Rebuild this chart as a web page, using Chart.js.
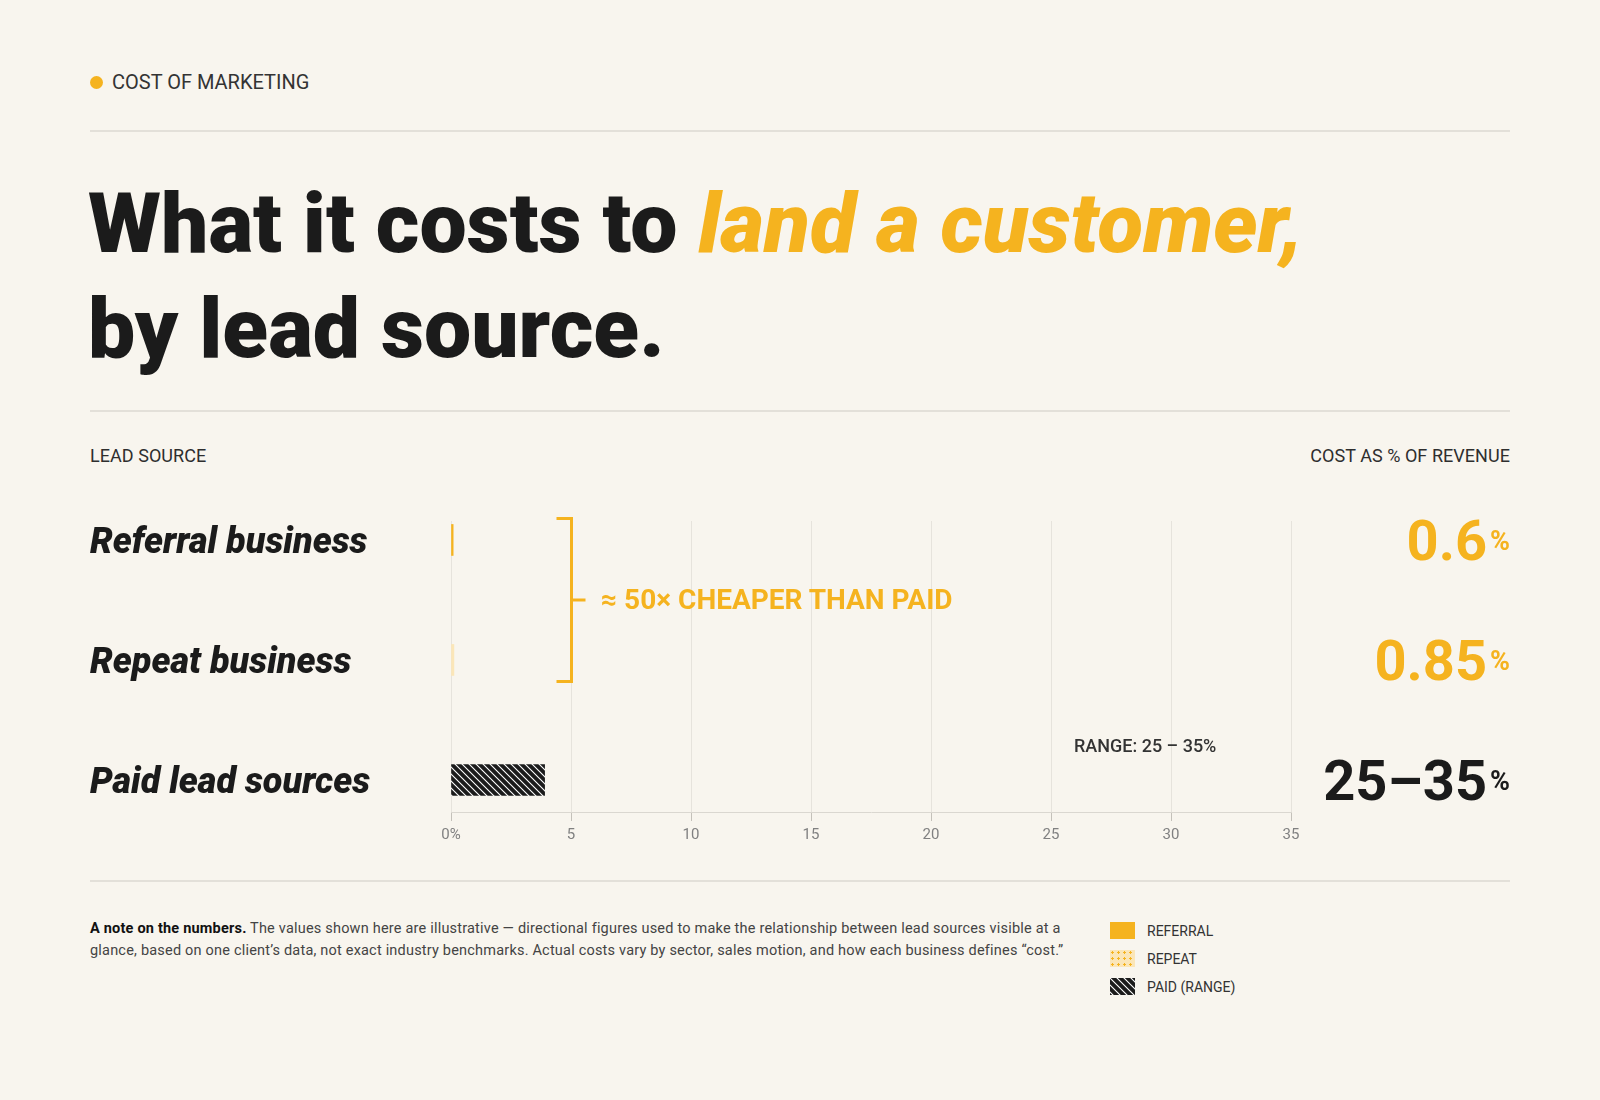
<!DOCTYPE html>
<html>
<head>
<meta charset="utf-8">
<script src="https://cdn.jsdelivr.net/npm/chart.js@4.4.1/dist/chart.umd.min.js"></script>
<style>
  html, body { margin: 0; padding: 0; }
  body { width: 1600px; height: 1100px; background: #f8f5ee; position: relative; overflow: hidden;
         font-family: Roboto, "Noto Sans", sans-serif; color: #1b1b1b; }
  .abs { position: absolute; line-height: 1; white-space: nowrap; }
  .rule { position: absolute; left: 90px; width: 1420px; height: 2px; background: #e3e0d9; }
  #kdot { position: absolute; left: 89.5px; top: 75.5px; width: 13px; height: 13px; border-radius: 50%; background: #f5b31f; }
  .title { font-weight: 900; font-size: 84px; color: #1b1b1b; }
  .title em { color: #f5b31f; font-style: italic; }
  .cap { font-size: 18px; font-weight: 400; color: #2e2e2e; letter-spacing: 0.05px; }
  .cat { font-size: 36px; font-weight: 900; font-style: italic; color: #1b1b1b; }
  .val { font-size: 56px; font-weight: 700; right: 90px; }
  .val .pct { font-size: 27px; position: relative; top: -10px; margin-left: 3px; }
  .note { font-size: 14.5px; color: #444; line-height: 22px; white-space: nowrap; letter-spacing: 0.2px; }
  .note b { color: #111; }
  .leg { font-size: 14px; color: #333; }
  #chartbox { position: absolute; left: 0; top: 470px; width: 1600px; height: 400px; }
</style>
</head>
<body>

<div id="kdot"></div>
<div class="abs" id="kicker" style="font-size:20px;color:#333;">COST OF MARKETING</div>
<div class="rule" style="top:130px"></div>

<div class="abs title" id="t1">What it costs to <em>land a customer,</em></div>
<div class="abs title" id="t2">by lead source.</div>
<div class="rule" style="top:410px"></div>

<div class="abs cap" id="hLeft">LEAD SOURCE</div>
<div class="abs cap" id="hRight" style="right:90px">COST AS % OF REVENUE</div>

<div id="chartbox"><canvas id="chart" width="1600" height="400"></canvas></div>
<div id="labels"></div>

<div class="rule" style="top:880px"></div>
<div class="abs note" id="note"><b>A note on the numbers.</b> The values shown here are illustrative — directional figures used to make the relationship between lead sources visible at a<br>glance, based on one client’s data, not exact industry benchmarks. Actual costs vary by sector, sales motion, and how each business defines “cost.”</div>
<div id="legend"></div>

<script>
// lead sources, top to bottom
const sources = ['Referral business', 'Repeat business', 'Paid lead sources'];
// figures printed on the right
const valueLabels = ['0.6', '0.85', '25–35'];
// bar ends as they sit on the x axis
const barEnds = [0.09, 0.12, 3.9];
const xTicks = [0, 5, 10, 15, 20, 25, 30, 35];
const paidRange = [25, 35];
const legendNames = ['REFERRAL', 'REPEAT', 'PAID (RANGE)'];

const YELLOW = '#f5b31f';
const PALE = '#fbe6b8';
const INK = '#1b1b1b';

function place(el, x, baseline, size) {
    el.style.left = x + 'px';
    el.style.top = (baseline - 0.842 * size) + 'px';
}

function hatchPattern(ctx) {
    var c = document.createElement('canvas');
    c.width = 7; c.height = 7;
    var g = c.getContext('2d');
    g.fillStyle = INK;
    g.fillRect(0, 0, 7, 7);
    g.strokeStyle = '#ffffff';
    g.lineWidth = 1.1;
    g.beginPath();
    g.moveTo(-1, -1); g.lineTo(8, 8);
    g.moveTo(-8, -1); g.lineTo(1, 8);
    g.moveTo(6, -1); g.lineTo(15, 8);
    g.stroke();
    return ctx.createPattern(c, 'repeat');
}

function plusPattern(ctx) {
    var c = document.createElement('canvas');
    c.width = 6; c.height = 6;
    var g = c.getContext('2d');
    g.fillStyle = PALE;
    g.fillRect(0, 0, 6, 6);
    g.fillStyle = YELLOW;
    g.fillRect(2, 1, 1, 3);
    g.fillRect(1, 2, 3, 1);
    return ctx.createPattern(c, 'repeat');
}

// header text
place(document.getElementById('kicker'), 112, 89, 20);
place(document.getElementById('t1'), 88, 253, 84);
place(document.getElementById('t2'), 88, 358, 84);
place(document.getElementById('hLeft'), 90, 462, 18);
document.getElementById('hRight').style.top = (462 - 0.842 * 18) + 'px';
var note = document.getElementById('note');
note.style.left = '90px';
note.style.top = (934 - (22 - 14.5 * 1.172) / 2 - 0.928 * 14.5) + 'px';

const ctx = document.getElementById('chart').getContext('2d');
const BAR_H = 31;
// the repeat bar is too thin to show its dot pattern, so it reads as pale yellow
const barColors = [YELLOW, PALE, hatchPattern(ctx)];

const chart = new Chart(ctx, {
    type: 'bar',
    data: {
        datasets: [{
            data: barEnds.map(function(v, i) { return { x: v, y: i }; }),
            backgroundColor: barColors,
            borderWidth: 0,
            barThickness: BAR_H
        }]
    },
    options: {
        indexAxis: 'y',
        responsive: false,
        animation: false,
        devicePixelRatio: 1,
        layout: { padding: { left: 451, right: 309, top: 51, bottom: 18 } },
        plugins: { legend: { display: false }, tooltip: { enabled: false } },
        scales: {
            x: {
                type: 'linear',
                min: 0,
                max: 35,
                afterBuildTicks: function(s) { s.ticks = xTicks.map(function(v) { return { value: v }; }); },
                afterFit: function(s) { s.height = 40; },
                grid: { color: '#e6e3dc', lineWidth: 1, tickLength: 9, tickColor: '#c4c1ba' },
                border: { color: '#dad7d0', width: 1 },
                ticks: {
                    color: '#808080',
                    padding: 5,
                    font: { family: 'Roboto', size: 15 },
                    callback: function(v) { return v === 0 ? '0%' : v; }
                }
            },
            y: {
                type: 'linear',
                reverse: true,
                offset: false,
                min: -0.158,
                max: 2.267,
                display: false,
                grid: { offset: false }
            }
        }
    },
    plugins: [{
        id: 'bracket',
        afterDatasetsDraw: function(c) {
            var xs = c.scales.x, ys = c.scales.y, g = c.ctx;
            var bx = Math.round(xs.getPixelForValue(5)) + 0.5;
            var top = ys.getPixelForValue(0) - BAR_H / 2 - 6;
            var bot = ys.getPixelForValue(1) + BAR_H / 2 + 6;
            var mid = (top + bot) / 2;
            g.save();
            g.strokeStyle = YELLOW;
            g.lineWidth = 3;
            g.beginPath();
            g.moveTo(bx - 15, top); g.lineTo(bx, top); g.lineTo(bx, bot); g.lineTo(bx - 15, bot);
            g.moveTo(bx, mid); g.lineTo(bx + 14, mid);
            g.stroke();
            g.restore();
        }
    }]
});

// labels tied to the chart's scales
(function() {
    var box = document.getElementById('labels');
    var xs = chart.scales.x, ys = chart.scales.y;
    var off = 470;
    sources.forEach(function(name, i) {
        var yc = ys.getPixelForValue(i) + off;
        var d = document.createElement('div');
        d.className = 'abs cat';
        d.textContent = name;
        box.appendChild(d);
        place(d, 90, yc + 13, 36);

        var v = document.createElement('div');
        v.className = 'abs val';
        v.style.color = i < 2 ? YELLOW : INK;
        v.innerHTML = '<span>' + valueLabels[i] + '</span><span class="pct">%</span>';
        v.style.top = (yc + 20 - 0.842 * 56) + 'px';
        box.appendChild(v);
    });

    var y0 = ys.getPixelForValue(0) + off, y1 = ys.getPixelForValue(1) + off;
    var mid = (y0 + y1) / 2;
    var a = document.createElement('div');
    a.className = 'abs';
    a.style.cssText += 'font-size:28px;font-weight:700;color:' + YELLOW + ';';
    a.textContent = '≈ 50× CHEAPER THAN PAID';
    box.appendChild(a);
    place(a, Math.round(xs.getPixelForValue(5)) + 30, mid + 10, 28);

    var r = document.createElement('div');
    r.className = 'abs';
    r.style.cssText += 'font-size:18px;font-weight:500;color:#333;';
    r.textContent = 'RANGE: ' + paidRange[0] + ' – ' + paidRange[1] + '%';
    box.appendChild(r);
    place(r, xs.getPixelForValue(paidRange[0]) + 23, ys.getPixelForValue(2) + off - 27.5, 18);
})();

// legend
(function() {
    var box = document.getElementById('legend');
    var rows = [930.5, 958.5, 986.5];
    legendNames.forEach(function(name, i) {
        var sw = document.createElement('canvas');
        sw.width = 25; sw.height = 17;
        sw.style.cssText = 'position:absolute;left:1110px;top:' + (rows[i] - 8.5) + 'px;';
        var g = sw.getContext('2d');
        g.fillStyle = i === 0 ? YELLOW : (i === 1 ? plusPattern(g) : hatchPattern(g));
        g.fillRect(0, 0, 25, 17);
        box.appendChild(sw);
        var t = document.createElement('div');
        t.className = 'abs leg';
        t.textContent = name;
        box.appendChild(t);
        place(t, 1147, rows[i] + 5, 14);
    });
})();
</script>
</body>
</html>
